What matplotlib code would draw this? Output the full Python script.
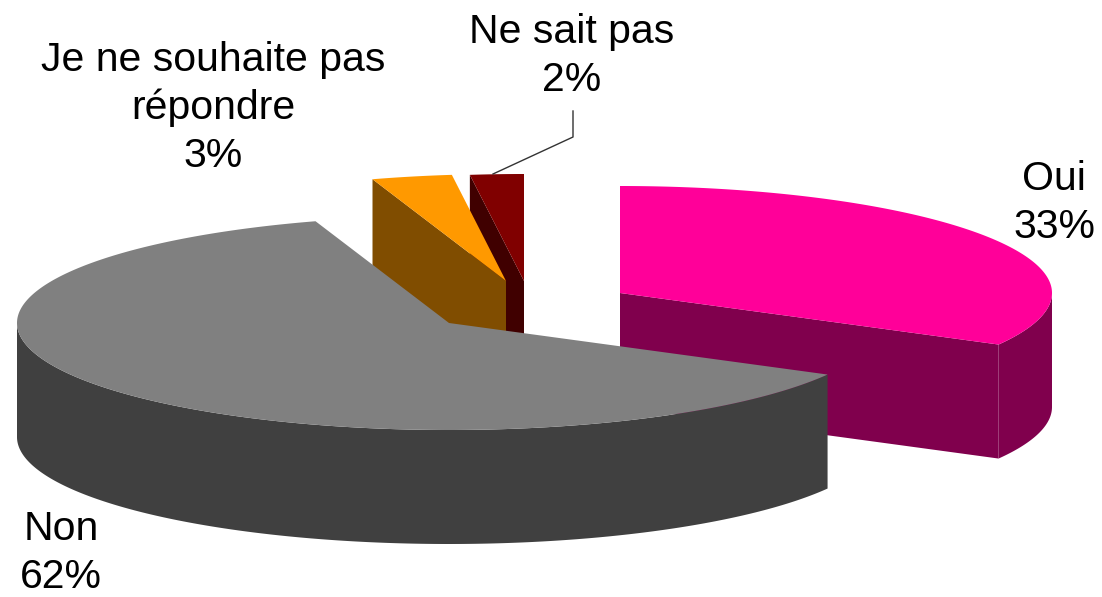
import numpy as np
from matplotlib import pyplot as plt
from matplotlib.patches import Polygon

plt.rcParams['font.family'] = ['Liberation Sans', 'DejaVu Sans']

categories = ['Oui', 'Non', 'Je ne souhaite pas\nrépondre', 'Ne sait pas']
values = [33, 62, 3, 2]
top_colors = ['#FF0099', '#808080', '#FF9900', '#800000']
side_colors = ['#80004D', '#404040', '#804D00', '#400000']

# exploded centres of each slice, in pixels
centers = [(620, 293), (449, 323), (506, 281), (524, 281)]
label_pos = [(1054, 203), (61, 553), (213, 108), (572, 56)]
RX, RY, DEPTH = 432, 107, 114
draw_order = [3, 2, 0, 1]

fig = plt.figure(figsize=(11.02, 5.97), dpi=100)
ax = fig.add_axes([0, 0, 1, 1])
ax.set_xlim(0, 1102)
ax.set_ylim(597, 0)
ax.axis('off')


def rim(c, a0, a1):
    # angles clockwise from 12 o'clock, in degrees
    t = np.radians(np.linspace(a0, a1, max(int(a1 - a0) * 2, 2)))
    return np.column_stack([c[0] + RX * np.sin(t), c[1] - RY * np.cos(t)])


edges = np.concatenate([[0], np.cumsum(values)]) / sum(values) * 360

for i in draw_order:
    c = centers[i]
    a0, a1 = edges[i], edges[i + 1]
    drop = np.array([0, DEPTH])

    # cut faces, only the ones turned towards the viewer show
    if i == 0:
        end = rim(c, a1, a1)[0]
        face = [c, end, end + drop, np.array(c) + drop]
        ax.add_patch(Polygon(face, fc=side_colors[i], ec='none'))
    if i in (2, 3):
        start = rim(c, a0, a0)[0]
        face = [c, start, start + drop, np.array(c) + drop]
        ax.add_patch(Polygon(face, fc=side_colors[i], ec='none'))

    # outer wall, lower half of the ellipse
    lo, hi = max(a0, 90), min(a1, 270)
    if lo < hi:
        r = rim(c, lo, hi)
        wall = np.vstack([r, (r + drop)[::-1]])
        ax.add_patch(Polygon(wall, fc=side_colors[i], ec='none'))

    top = np.vstack([[c], rim(c, a0, a1)])
    ax.add_patch(Polygon(top, fc=top_colors[i], ec='none'))

# leader line for the small slice
ax.plot([573, 573, 493], [111, 137, 174], color='#333333', lw=1, zorder=1)

for i, cat in enumerate(categories):
    ax.text(label_pos[i][0], label_pos[i][1], f'{cat}\n{values[i]}%', ha='center',
            va='center', fontsize=29.5, linespacing=1.33, color='black')

fig.savefig('out.png', dpi=100)
